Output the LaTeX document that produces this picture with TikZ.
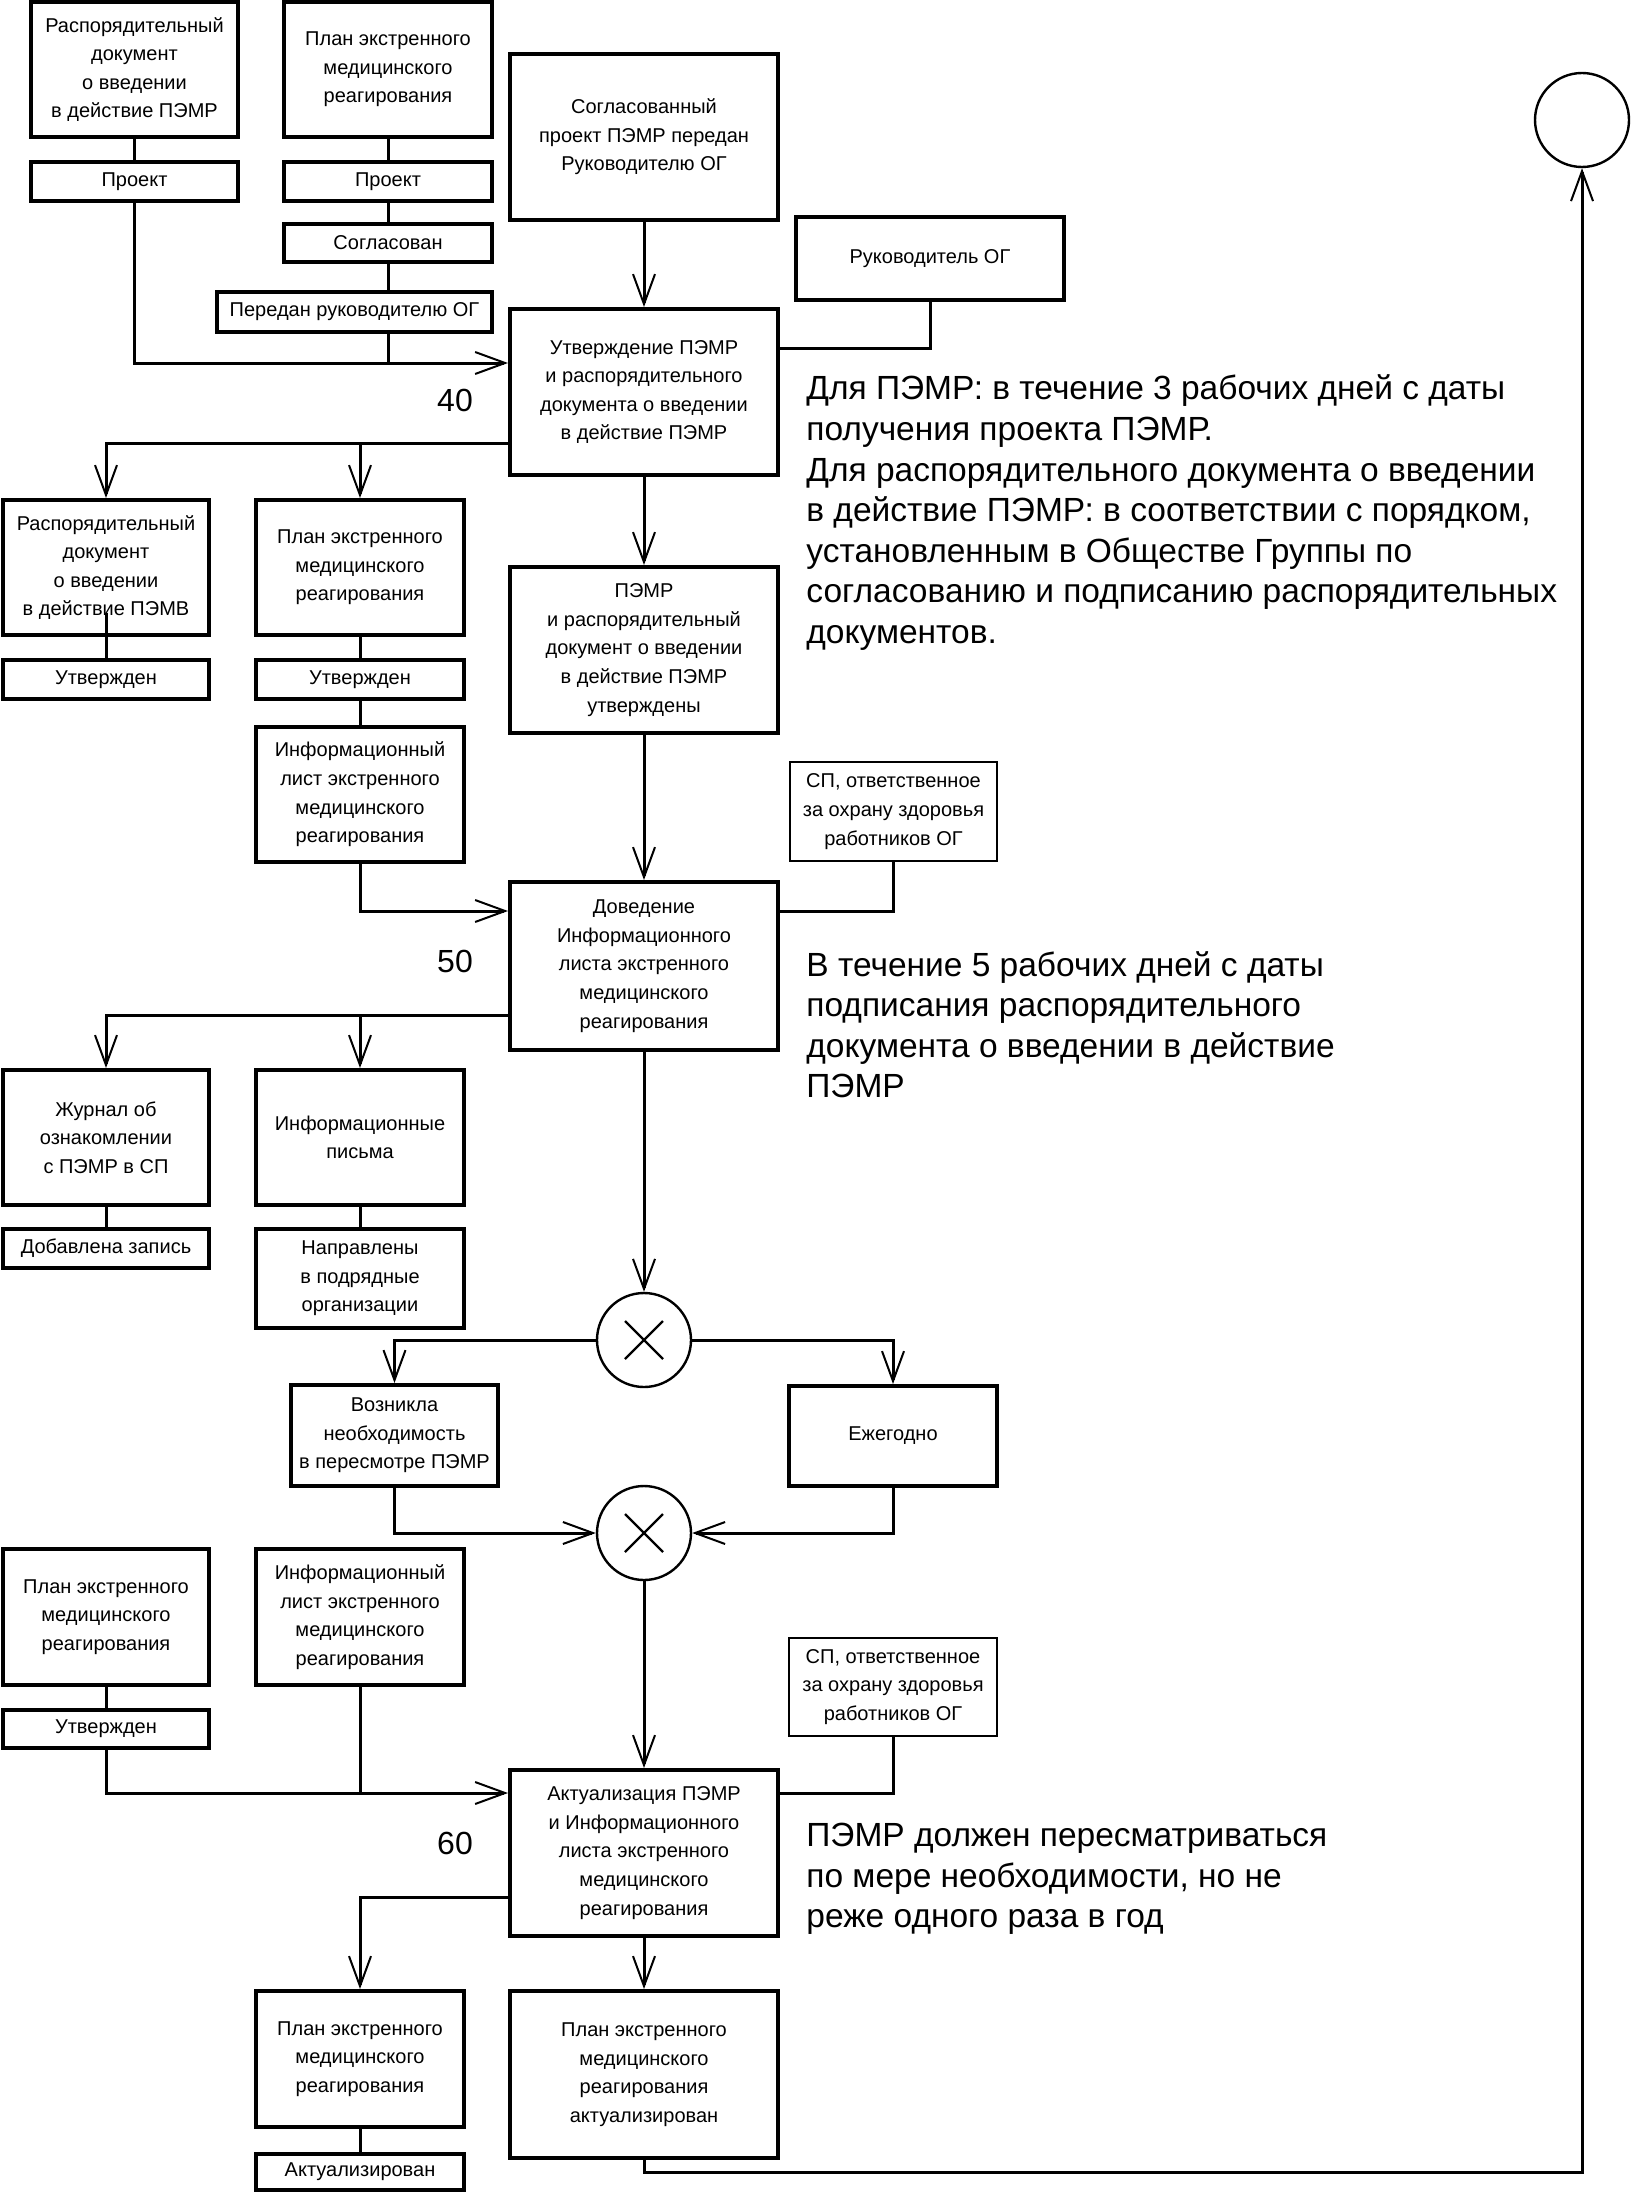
\documentclass[tikz,border=0pt]{standalone}
\usepackage{fontspec}
\setmainfont{Liberation Sans}
\usetikzlibrary{arrows.meta}
\newcommand{\myboxfont}{\fontsize{10pt}{14.3pt}\selectfont}
\newcommand{\mynotefont}{\fontsize{16.75pt}{20.3pt}\selectfont}
\newcommand{\mynumfont}{\fontsize{16pt}{18pt}\selectfont}
\begin{document}
\begin{tikzpicture}[x=0.5pt,y=-0.5pt,
  box/.style={draw, line width=2pt, inner sep=0pt, align=center, font=\myboxfont},
  thinbox/.style={box, line width=1.3pt},
  conn/.style={line width=1.5pt},
  arr/.style={conn, -{Straight Barb[length=15pt,width=11pt,line width=1pt]}},
  xnode/.style={circle, draw, line width=1.2pt, minimum size=47pt, inner sep=0pt},
  xmark/.style={line width=1.2pt},
  note/.style={anchor=north west, inner sep=0pt, align=left, font=\mynotefont},
  num/.style={inner sep=0pt, font=\mynumfont}]
\useasboundingbox (0,0) rectangle (1630,2194);

% ---------- block 40 ----------
\node[box, minimum width=103.5pt, minimum height=67.5pt] (A) at (134.5,69.5) {Распорядительный\\документ\\о введении\\в действие ПЭМР};
\node[box, minimum width=104pt, minimum height=67.5pt] (B) at (388,69.5) {План экстренного\\медицинского\\реагирования};
\node[box, minimum width=134pt, minimum height=83pt] (C) at (644,137) {Согласованный\\проект ПЭМР передан\\Руководителю ОГ};
\node[box, minimum width=103.5pt, minimum height=19.5pt] (ProjA) at (134.5,181.5) {Проект};
\node[box, minimum width=104pt, minimum height=19.5pt] (ProjB) at (388,181.5) {Проект};
\node[box, minimum width=104pt, minimum height=19pt] (Sogl) at (388,243) {Согласован};
\node[box, minimum width=137.5pt, minimum height=20pt] (Pered) at (354.5,312) {Передан руководителю ОГ};
\node[box, minimum width=134pt, minimum height=41.5pt] (Ruk) at (930,258.5) {Руководитель ОГ};
\node[box, minimum width=134pt, minimum height=83pt] (D) at (644,392) {Утверждение ПЭМР\\и распорядительного\\документа о введении\\в действие ПЭМР};
\node[num] (n40) at (455,400) {40};

\node[box, minimum width=103pt, minimum height=67.5pt] (E) at (106,567.5) {Распорядительный\\документ\\о введении\\в действие ПЭМВ};
\node[box, minimum width=104pt, minimum height=67.5pt] (F) at (360,567.5) {План экстренного\\медицинского\\реагирования};
\node[box, minimum width=103pt, minimum height=19.5pt] (UtvE) at (106,679.5) {Утвержден};
\node[box, minimum width=104pt, minimum height=19.5pt] (UtvF) at (360,679.5) {Утвержден};
\node[box, minimum width=104pt, minimum height=67.5pt] (G) at (360,794.5) {Информационный\\лист экстренного\\медицинского\\реагирования};
\node[box, minimum width=134pt, minimum height=83pt] (H) at (644,650) {ПЭМР\\и распорядительный\\документ о введении\\в действие ПЭМР\\утверждены};

% ---------- block 50 ----------
\node[thinbox, minimum width=103.5pt, minimum height=49.5pt] (SP1) at (893.5,811.5) {СП, ответственное\\за охрану здоровья\\работников ОГ};
\node[box, minimum width=134pt, minimum height=84pt] (I) at (644,966) {Доведение\\Информационного\\листа экстренного\\медицинского\\реагирования};
\node[num] (n50) at (455,961) {50};
\node[box, minimum width=103pt, minimum height=67.5pt] (J) at (106,1137.5) {Журнал об\\ознакомлении\\с ПЭМР в СП};
\node[box, minimum width=104pt, minimum height=67.5pt] (K) at (360,1137.5) {Информационные\\письма};
\node[box, minimum width=103pt, minimum height=19.5pt] (Dob) at (106,1248.5) {Добавлена запись};
\node[box, minimum width=104pt, minimum height=49.5pt] (Napr) at (360,1278.5) {Направлены\\в подрядные\\организации};

% ---------- decision ----------
\node[xnode] (X1) at (644,1340) {};
\node[box, minimum width=103.5pt, minimum height=50.5pt] (L) at (394.5,1435.5) {Возникла\\необходимость\\в пересмотре ПЭМР};
\node[box, minimum width=104pt, minimum height=50pt] (M) at (893,1436) {Ежегодно};
\node[xnode] (X2) at (644,1533) {};

% ---------- block 60 ----------
\node[box, minimum width=103pt, minimum height=68pt] (N) at (106,1617) {План экстренного\\медицинского\\реагирования};
\node[box, minimum width=104pt, minimum height=68pt] (O) at (360,1617) {Информационный\\лист экстренного\\медицинского\\реагирования};
\node[box, minimum width=103pt, minimum height=19pt] (UtvN) at (106,1729) {Утвержден};
\node[thinbox, minimum width=104pt, minimum height=49pt] (SP2) at (893,1687) {СП, ответственное\\за охрану здоровья\\работников ОГ};
\node[box, minimum width=134pt, minimum height=83pt] (P) at (644,1853) {Актуализация ПЭМР\\и Информационного\\листа экстренного\\медицинского\\реагирования};
\node[num] (n60) at (455,1843) {60};
\node[box, minimum width=104pt, minimum height=68pt] (Q) at (360,2059) {План экстренного\\медицинского\\реагирования};
\node[box, minimum width=104pt, minimum height=18pt] (Akt) at (360,2172) {Актуализирован};
\node[box, minimum width=134pt, minimum height=83.5pt] (R) at (644,2074.5) {План экстренного\\медицинского\\реагирования\\актуализирован};

\node[xnode] (End) at (1582,120) {};

% ---------- notes ----------
\node[note] (note1) at (806,369.5) {\rule{0pt}{15pt}Для ПЭМР: в течение 3 рабочих дней с даты\\получения проекта ПЭМР.\\Для распорядительного документа о введении\\в действие ПЭМР: в соответствии с порядком,\\установленным в Обществе Группы по\\согласованию и подписанию распорядительных\\документов.};
\node[note] (note2) at (806,945.6) {\rule{0pt}{15pt}В течение 5 рабочих дней с даты\\подписания распорядительного\\документа о введении в действие\\ПЭМР};
\node[note] (note3) at (806,1816) {\rule{0pt}{15pt}ПЭМР должен пересматриваться\\по мере необходимости, но не\\реже одного раза в год};

% ---------- coordinates ----------
\coordinate (j40) at (134.5,363);
\coordinate (jRuk) at (930,348);
\coordinate (b40) at (106,443);
\coordinate (jG) at (360,911);
\coordinate (b50) at (106,1015);
\coordinate (jN) at (106,1793);
\coordinate (b60) at (362,1897);
\coordinate (loop) at (1582,2172);

% ---------- connectors ----------
\draw[conn] (A) -- (ProjA);
\draw[arr] (ProjA.south) |- (D.west |- j40);
\draw[conn] (B) -- (ProjB);
\draw[conn] (ProjB) -- (Sogl);
\draw[conn] (Sogl.south) -- (Sogl.south |- Pered.north);
\draw[conn] (Sogl.south |- Pered.south) -- (Sogl.south |- j40);
\draw[arr] (C) -- (D);
\draw[conn] (Ruk.south) |- (D.east |- jRuk);
\draw[arr] (D.west |- b40) -| (E.north);
\draw[arr] (F.north |- b40) -- (F.north);
\draw[arr] (D) -- (H);
\draw[conn] (UtvE.north) -- ++(0,-45);
\draw[conn] (F) -- (UtvF);
\draw[conn] (UtvF) -- (G);
\draw[arr] (G.south) |- (I.west |- jG);
\draw[arr] (H) -- (I);
\draw[conn] (SP1.south) |- (I.east |- jG);
\draw[arr] (I.west |- b50) -| (J.north);
\draw[arr] (K.north |- b50) -- (K.north);
\draw[conn] (J) -- (Dob);
\draw[conn] (K) -- (Napr);
\draw[arr] (I) -- (X1);
\draw[arr] (X1.west) -| (L.north);
\draw[arr] (X1.east) -| (M.north);
\draw[arr] (L.south) |- (X2.west);
\draw[arr] (M.south) |- (X2.east);
\draw[arr] (X2) -- (P);
\draw[conn] (N) -- (UtvN);
\draw[arr] (UtvN.south) |- (P.west |- jN);
\draw[conn] (O.south) -- (O.south |- jN);
\draw[conn] (SP2.south) |- (P.east |- jN);
\draw[arr] (P.west |- b60) -| (Q.north);
\draw[arr] (P) -- (R);
\draw[conn] (Q) -- (Akt);
\draw[arr] (R.south) |- (loop) -- (End.south);

% ---------- crosses ----------
\foreach \c in {X1,X2}{
  \draw[xmark] ([shift={(-19,-19)}]\c.center) -- ([shift={(19,19)}]\c.center);
  \draw[xmark] ([shift={(-19,19)}]\c.center) -- ([shift={(19,-19)}]\c.center);
}
\end{tikzpicture}
\end{document}
